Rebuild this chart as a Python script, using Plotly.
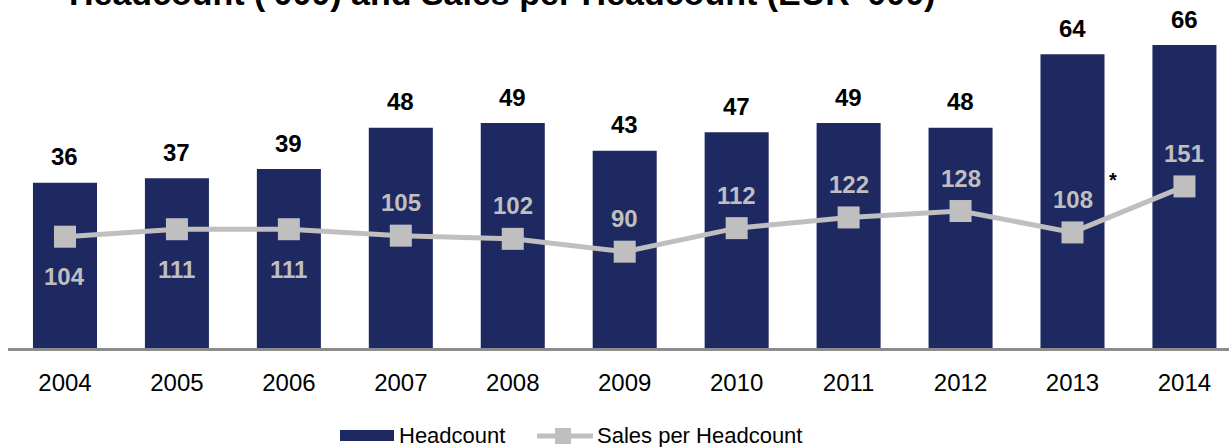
import plotly.graph_objects as go

# ---- data -------------------------------------------------------------
years = ["2004", "2005", "2006", "2007", "2008", "2009",
         "2010", "2011", "2012", "2013", "2014"]
headcount = [36, 37, 39, 48, 49, 43, 47, 49, 48, 64, 66]
sales_per_headcount = [104, 111, 111, 105, 102, 90, 112, 122, 128, 108, 151]
sales_label_side = ["below", "below", "below", "above", "above", "above",
                    "above", "above", "above", "above", "above"]

# ---- style -------------------------------------------------------------
NAVY = "#1F2961"
GREY = "#BFBFBF"
AXIS_GREY = "#8C8C8C"
FONT = "Liberation Sans, Arial, sans-serif"

W, H = 1229, 447
LEFT = 8           # left margin (px)
PLOT_BOTTOM = 348  # bottom of plotting area (px from top)


def px_x(px):
    return (px - LEFT) / (W - LEFT)


def px_y(py):
    return (PLOT_BOTTOM - py) / PLOT_BOTTOM


fig = go.Figure()

fig.add_trace(go.Bar(
    x=years, y=headcount, name="Headcount",
    marker=dict(color=NAVY, line=dict(width=0)),
    showlegend=False,
))

fig.add_trace(go.Scatter(
    x=years, y=sales_per_headcount, name="Sales per Headcount",
    yaxis="y2", mode="lines+markers",
    line=dict(color=GREY, width=5),
    marker=dict(symbol="square", size=22, color=GREY),
    showlegend=False,
))

annotations = []

# values above the bars (x given as category index)
for i, v in enumerate(headcount):
    annotations.append(dict(
        x=i, y=v, xref="x", yref="y", text=f"<b>{v}</b>",
        showarrow=False, xanchor="center", yanchor="middle", yshift=26,
        font=dict(family=FONT, size=24, color="black"),
    ))

# values next to the line markers
side_shift = {"above": 33, "below": -40}
for i, (v, side) in enumerate(zip(sales_per_headcount, sales_label_side)):
    annotations.append(dict(
        x=i, y=v, xref="x", yref="y2", text=f"<b>{v}</b>",
        showarrow=False, xanchor="center", yanchor="middle",
        yshift=side_shift[side],
        font=dict(family=FONT, size=24, color=GREY),
    ))

# footnote marker next to 2013
annotations.append(dict(
    x=px_x(1113), y=px_y(180), xref="paper", yref="paper", text="<b>*</b>",
    showarrow=False, xanchor="center", yanchor="middle",
    font=dict(family=FONT, size=20, color="black"),
))

# title (runs off the top edge of the page)
annotations.append(dict(
    x=px_x(67), y=1, xref="paper", yref="paper",
    text="<b>Headcount ('000) and Sales per Headcount (EUR '000)</b>",
    showarrow=False, xanchor="left", yanchor="bottom", yshift=-14,
    font=dict(family=FONT, size=34, color="black"),
))

# legend entries
annotations.append(dict(
    x=px_x(397), y=px_y(436), xref="paper", yref="paper", text="Headcount",
    showarrow=False, xanchor="left", yanchor="middle",
    font=dict(family=FONT, size=22, color="black"),
))
annotations.append(dict(
    x=px_x(595), y=px_y(436), xref="paper", yref="paper",
    text="Sales per Headcount",
    showarrow=False, xanchor="left", yanchor="middle",
    font=dict(family=FONT, size=22, color="black"),
))

shapes = [
    dict(type="rect", xref="paper", yref="paper",
         x0=px_x(340), x1=px_x(394), y0=px_y(430), y1=px_y(441),
         fillcolor=NAVY, line=dict(width=0)),
    dict(type="line", xref="paper", yref="paper",
         x0=px_x(537), x1=px_x(593), y0=px_y(436), y1=px_y(436),
         line=dict(color=GREY, width=5)),
    dict(type="rect", xref="paper", yref="paper",
         x0=px_x(555), x1=px_x(571), y0=px_y(428), y1=px_y(444),
         fillcolor=GREY, line=dict(width=0)),
]

hidden_axis = dict(showticklabels=False, showline=False, showgrid=False,
                   zeroline=False, ticks="")

fig.update_layout(
    width=W, height=H,
    margin=dict(l=LEFT, r=0, t=0, b=H - PLOT_BOTTOM, pad=0),
    paper_bgcolor="white", plot_bgcolor="white",
    bargap=0.428,
    showlegend=False,
    font=dict(family=FONT, color="black"),
    xaxis=dict(
        type="category", range=[-0.509, 10.398],
        showline=True, linecolor=AXIS_GREY, linewidth=3,
        ticks="", showgrid=False, zeroline=False,
        tickfont=dict(family=FONT, size=24, color="black"),
        ticklabelstandoff=11,
    ),
    yaxis=dict(range=[0, 75.82], **hidden_axis),
    yaxis2=dict(range=[0, 325.2], overlaying="y", **hidden_axis),
    annotations=annotations,
    shapes=shapes,
)

fig.write_html("out.html")
